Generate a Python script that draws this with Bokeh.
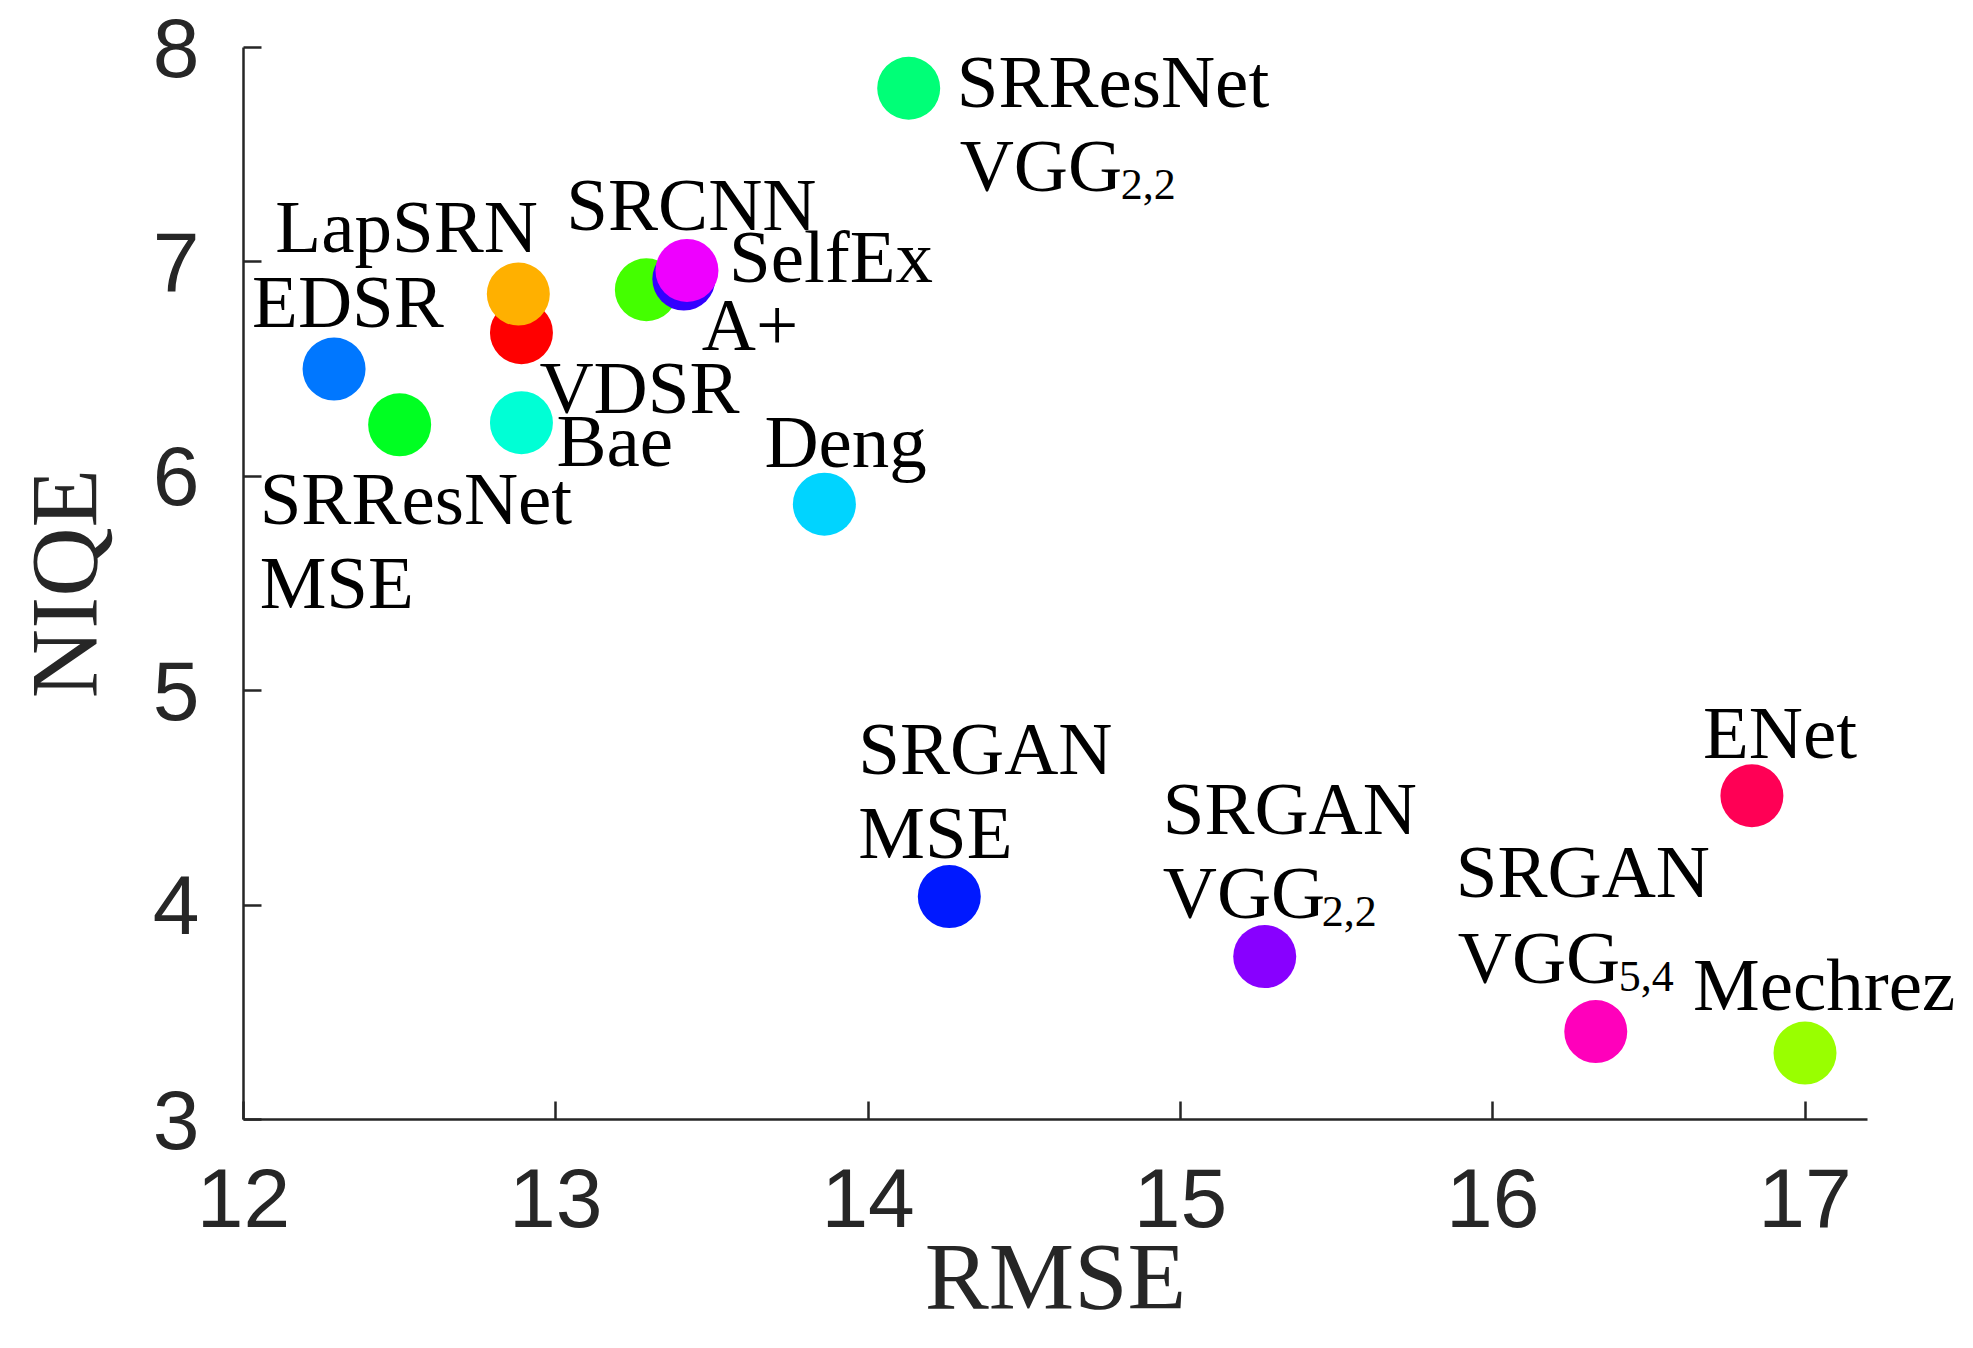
from bokeh.plotting import figure
from bokeh.models import Range1d, FixedTicker, ColumnDataSource
from bokeh.core.properties import value
from bokeh.embed import file_html
from bokeh.resources import INLINE

# ---- data ----
methods = ["EDSR", "SRResNet-MSE", "Bae", "VDSR", "LapSRN", "SRCNN", "A+", "SelfEx",
           "SRResNet-VGG22", "Deng", "SRGAN-MSE", "SRGAN-VGG22", "SRGAN-VGG54", "ENet", "Mechrez"]
rmse = [12.29, 12.50, 12.89, 12.89, 12.88, 13.29, 13.41, 13.42,
        14.13, 13.86, 14.26, 15.27, 16.33, 16.83, 17.00]
niqe = [6.50, 6.24, 6.25, 6.67, 6.85, 6.87, 6.92, 6.96,
        7.81, 5.87, 4.04, 3.76, 3.41, 4.51, 3.31]
colors = ["#0077ff", "#00ff22", "#00ffd5", "#ff0000", "#ffb000", "#44ff00", "#3300ff", "#ee00ff",
          "#00ff77", "#00d4ff", "#0019ff", "#8800ff", "#ff00bb", "#ff0055", "#99ff00"]
x_ticks = [12, 13, 14, 15, 16, 17]
y_ticks = [3, 4, 5, 6, 7, 8]
x_label = "RMSE"
y_label = "NIQE"

# label lines: (point index, text)
label_owner = [0, 1, 1, 2, 3, 4, 5, 6, 7, 8, 8, 9, 10, 10, 11, 11, 12, 12, 13, 14]
label_text = ["EDSR", "SRResNet", "MSE", "Bae", "VDSR", "LapSRN", "SRCNN", "A+", "SelfEx",
              "SRResNet", "VGG", "Deng", "SRGAN", "MSE", "SRGAN", "VGG", "SRGAN", "VGG", "ENet", "Mechrez"]
sub_owner = [8, 11, 12]
sub_text = ["2,2", "2,2", "5,4"]

# ---- layout / styling ----
W, H = 1957, 1332
LEFT, TOP = 243, 47          # where the axes cross / where the y axis ends
PX_PER_Y = 214.4
PX_PER_X = 312.3
X_AXIS_END = 17.2

label_dx = [-82, -140, -140, 35, 18, -243, -80, 18, 42,
            48, 51, -60, -91, -91, -102, -102, -140, -138, -49, -112]
label_dy = [-41.5, 99.5, 183.7, 43.5, 81, -41.5, -59, 71.6, 12,
            19.5, 103.7, -37, -122.4, -37.8, -122.4, -37.8, -133.6, -47.7, -37, -42.4]
sub_dx = [212, 57, 23]
sub_dy = [111.7, -29.8, -39.7]
MAIN_FIX = -26   # baseline correction for 75px text
SUB_FIX = -15    # baseline correction for 44px text

AX = "#262626"
SERIF = "Liberation Serif"

x0, y0 = x_ticks[0], y_ticks[-1]
x_range = Range1d(x0 - LEFT / PX_PER_X, x0 + (W - LEFT) / PX_PER_X)
y_range = Range1d(y0 - (H - TOP) / PX_PER_Y, y0 + TOP / PX_PER_Y)

p = figure(width=W, height=H, output_backend="svg", toolbar_location=None,
           x_range=x_range, y_range=y_range,
           min_border_left=0, min_border_top=0, min_border_right=0, min_border_bottom=0)
p.outline_line_color = None
p.grid.grid_line_color = None
p.background_fill_color = "white"

for ax in (p.xaxis[0], p.yaxis[0]):
    ax.axis_line_color = AX
    ax.axis_line_width = 2.5
    ax.major_tick_line_color = AX
    ax.major_tick_line_width = 2.5
    ax.major_tick_in = 18
    ax.major_tick_out = 0
    ax.minor_tick_line_color = None
    ax.major_label_text_font = "Liberation Sans"
    ax.major_label_text_font_size = "84px"
    ax.major_label_text_color = AX
    ax.axis_label_text_font = SERIF
    ax.axis_label_text_font_size = "96px"
    ax.axis_label_text_font_style = "normal"
    ax.axis_label_text_color = AX

p.xaxis.ticker = FixedTicker(ticks=x_ticks)
p.yaxis.ticker = FixedTicker(ticks=y_ticks)
p.xaxis.bounds = (x_ticks[0], X_AXIS_END)
p.yaxis.bounds = (y_ticks[0], y_ticks[-1])
p.xaxis.fixed_location = y_ticks[0]
p.yaxis.fixed_location = x_ticks[0]
p.xaxis.major_label_standoff = 49
p.yaxis.major_label_standoff = 44
p.xaxis.axis_label = x_label
p.xaxis.axis_label_standoff = -7
p.yaxis.axis_label = y_label
p.yaxis.axis_label_standoff = 32

src = ColumnDataSource(dict(x=rmse, y=niqe, c=colors, m=methods))
p.scatter("x", "y", source=src, size=63, fill_color="c", line_color=None)

lsrc = ColumnDataSource(dict(
    x=[rmse[i] for i in label_owner], y=[niqe[i] for i in label_owner],
    t=label_text, dx=label_dx, dy=[d + MAIN_FIX for d in label_dy]))
p.text("x", "y", text="t", source=lsrc, x_offset="dx", y_offset="dy",
       text_font=value(SERIF), text_font_size="75px", text_color="black",
       text_baseline="alphabetic", text_align="left")

ssrc = ColumnDataSource(dict(
    x=[rmse[i] for i in sub_owner], y=[niqe[i] for i in sub_owner],
    t=sub_text, dx=sub_dx, dy=[d + SUB_FIX for d in sub_dy]))
p.text("x", "y", text="t", source=ssrc, x_offset="dx", y_offset="dy",
       text_font=value(SERIF), text_font_size="44px", text_color="black",
       text_baseline="alphabetic", text_align="left")

open("out.html", "w").write(file_html(p, INLINE))
